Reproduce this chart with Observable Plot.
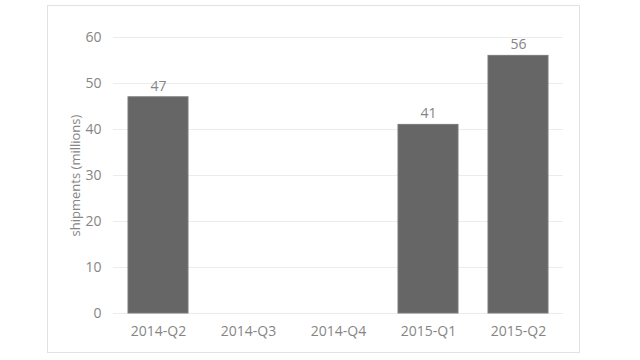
<!DOCTYPE html>
<html><head><meta charset="utf-8">
<script src="https://cdn.jsdelivr.net/npm/d3@7"></script>
<script src="https://cdn.jsdelivr.net/npm/@observablehq/plot@0.6"></script>
<style>
body{margin:0;background:#fff;}
#wrap{position:relative;width:640px;height:360px;}
#border{position:absolute;left:47px;top:5px;width:531px;height:346px;border:1px solid #e2e2e2;pointer-events:none;}
</style></head>
<body><div id="wrap"><div id="border"></div></div>
<script>
const quarters = ["2014-Q2","2014-Q3","2014-Q4","2015-Q1","2015-Q2"];
const shipments = [47, null, null, 41, 56];
const yTicks = [0,10,20,30,40,50,60];

const data = quarters.map((q,i)=>({q, v: shipments[i]}));
const bars = data.filter(d=>d.v!=null);
const gray = "#858585";
const chart = Plot.plot({
  width: 640, height: 360,
  marginLeft: 113, marginRight: 77, marginTop: 37, marginBottom: 47,
  style: {fontFamily: "'Open Sans', sans-serif", fontSize: "14px", color: gray, background: "transparent"},
  x: {domain: quarters, paddingInner: 1/3, paddingOuter: 1/6, label: null, tickSize: 0},
  y: {domain: [0,60], ticks: yTicks, label: null},
  marks: [
    Plot.gridY(yTicks, {stroke: "#ececec", strokeOpacity: 1}),
    Plot.axisY(yTicks, {tickSize: 0, tickPadding: 12, fill: gray, fontSize: 14}),
    Plot.axisX({tickSize: 0, tickPadding: 13, fill: gray, fontSize: 14}),
    Plot.barY(bars, {x: "q", y: "v", fill: "#666666", stroke: "#7a7a7a", strokeWidth: 1}),
    Plot.text(bars, {x: "q", y: "v", text: d=>String(d.v), dy: -11, fill: gray, fontSize: 14}),
    Plot.text(["shipments (millions)"], {frameAnchor: "left", dx: -38, rotate: -90, textAnchor: "middle", fill: gray, fontSize: 13, text: d=>d})
  ]
});
document.getElementById("wrap").appendChild(chart);
chart.style.position="absolute"; chart.style.left="0"; chart.style.top="0";
</script></body></html>
